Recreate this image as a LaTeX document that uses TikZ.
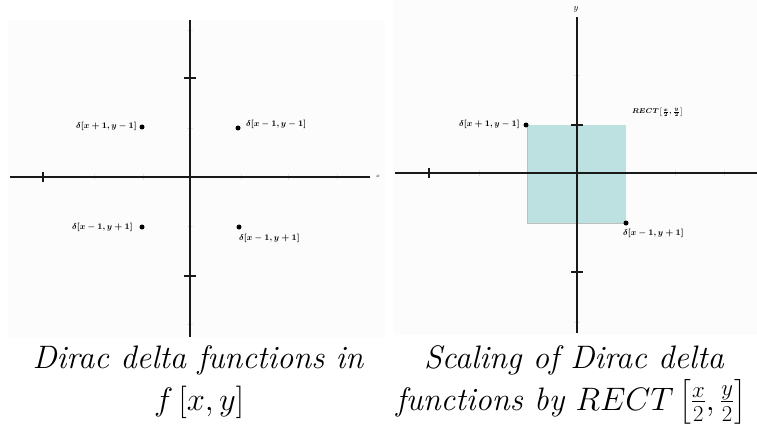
\RequirePackage{fix-cm}
\documentclass[tikz,border=0pt]{standalone}
\usepackage{amsmath}
\definecolor{rectfill}{RGB}{189,224,224}
\definecolor{panelgray}{RGB}{252,252,252}
\begin{document}
\begin{tikzpicture}[x=1pt,y=-1pt,
  panelbg/.style={fill=panelgray,draw=none},
  axis/.style={line width=2.6pt,black!90},
  haxis/.style={line width=2pt,black!90},
  tickmark/.style={line width=1.2pt,black!90},
  faint/.style={line width=0.8pt,black!10},
  dotpt/.style={circle,fill=black,inner sep=0pt,minimum size=5pt},
  dlabel/.style={font=\fontsize{8.5}{9}\selectfont\boldmath,inner sep=1pt},
  caption/.style={font=\fontsize{32.5}{38}\selectfont\itshape,anchor=base,inner sep=0pt}]
\useasboundingbox (0,0) rectangle (757,425);
\fill[white] (0,0) rectangle (757,425);
% panel backgrounds
\fill[panelbg] (8,20) rectangle (385,338);
\fill[panelbg] (393,0) rectangle (757,335);

% ===== Left panel =====
\coordinate (LO) at (190,177);
\foreach \t in {-96,-47,51,98,147} \draw[faint] (190+\t,174) -- (190+\t,180);
\foreach \t in {-147,-49,49,147} \draw[faint] (187,177+\t) -- (193,177+\t);
\coordinate (LxL) at (10,177);
\coordinate (LxR) at (370,177);
\coordinate (LyT) at (190,20);
\coordinate (LyB) at (190,337);
\draw[haxis] (LxL) -- (LxR);
\draw[axis] (LyT) -- (LyB);
\draw[tickmark] (43,172) -- (43,182);
\draw[tickmark] (184,78) -- (196,78);
\draw[tickmark] (184,276) -- (196,276);
\node[font=\fontsize{5}{6}\selectfont,inner sep=0pt] (Lxlab) at (378,176) {$x$};

\node[dotpt] (p1) at (142,127) {};
\node[dotpt] (p2) at (238,128) {};
\node[dotpt] (p3) at (142,227) {};
\node[dotpt] (p4) at (239,227) {};
\node[dlabel,anchor=east] (l1) at (138,126) {$\delta[x+1,y-1]$};
\node[dlabel,anchor=west] (l2) at (245,124) {$\delta[x-1,y-1]$};
\node[dlabel,anchor=east] (l3) at (134,227) {$\delta[x-1,y+1]$};
\node[dlabel,anchor=north west] (l4) at (238,233) {$\delta[x-1,y+1]$};

% ===== Right panel =====
\coordinate (RO) at (577,173);
\fill[rectfill] (527,125) rectangle (626,223);
\draw[black!25,line width=0.5pt] (527,125) -- (527,223) -- (626,223);
\foreach \t in {-98,98,147} \draw[faint] (577+\t,170) -- (577+\t,176);
\foreach \t in {-98,149} \draw[faint] (574,173+\t) -- (580,173+\t);
\coordinate (RxL) at (395,173);
\coordinate (RxR) at (757,173);
\coordinate (RyT) at (577,17);
\coordinate (RyB) at (577,333);
\draw[haxis] (RxL) -- (RxR);
\draw[axis] (RyT) -- (RyB);
\draw[tickmark] (429,168) -- (429,178);
\draw[tickmark] (571,125) -- (583,125);
\draw[tickmark] (571,272) -- (583,272);
\node[font=\fontsize{9}{10}\selectfont,inner sep=0pt] (Rylab) at (576,9) {$y$};

\node[dotpt] (q1) at (526,125) {};
\node[dotpt] (q2) at (626,223) {};
\node[dlabel,anchor=east] (m1) at (521,124) {$\delta[x+1,y-1]$};
\node[dlabel,anchor=north west] (m2) at (622,228) {$\delta[x-1,y+1]$};
\node[font=\fontsize{7}{8}\selectfont\boldmath,inner sep=0pt,anchor=west] (rect) at (632,112) {$RECT\!\left[\frac{x}{2},\frac{y}{2}\right]$};

% ===== Captions =====
\node[caption] (c1) at (198,368) {Dirac delta functions in};
\node[caption] (c2) at (199,410) {$f\left[x,y\right]$};
\node[caption] (c3) at (574,368) {Scaling of Dirac delta};
\node[caption] (c4) at (571,410) {functions by $RECT\left[\frac{x}{2},\frac{y}{2}\right]$};
\end{tikzpicture}
\end{document}
